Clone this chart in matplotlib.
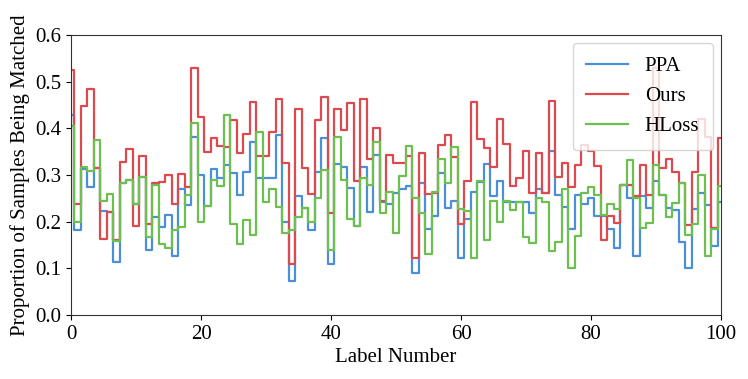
import numpy as np
import matplotlib
matplotlib.use("Agg")
import matplotlib.pyplot as plt

labels = np.arange(101)

ppa = [0.429, 0.182, 0.312, 0.275, 0.314, 0.222, 0.221, 0.114, 0.282, 0.289,
       0.238, 0.296, 0.139, 0.209, 0.189, 0.214, 0.126, 0.270, 0.236, 0.382,
       0.300, 0.234, 0.312, 0.293, 0.321, 0.305, 0.257, 0.306, 0.371, 0.293,
       0.293, 0.293, 0.385, 0.200, 0.073, 0.255, 0.229, 0.181, 0.307, 0.379,
       0.109, 0.324, 0.316, 0.273, 0.191, 0.318, 0.221, 0.343, 0.241, 0.238,
       0.261, 0.269, 0.276, 0.089, 0.282, 0.184, 0.211, 0.304, 0.230, 0.245,
       0.123, 0.205, 0.264, 0.285, 0.323, 0.255, 0.286, 0.243, 0.243, 0.241,
       0.241, 0.218, 0.269, 0.261, 0.352, 0.256, 0.231, 0.184, 0.256, 0.238,
       0.250, 0.212, 0.212, 0.184, 0.143, 0.279, 0.250, 0.126, 0.254, 0.229,
       0.286, 0.257, 0.229, 0.225, 0.157, 0.100, 0.227, 0.261, 0.236, 0.148,
       0.241]

ours = [0.524, 0.237, 0.447, 0.484, 0.315, 0.162, 0.221, 0.160, 0.327, 0.355,
        0.190, 0.341, 0.195, 0.282, 0.285, 0.300, 0.237, 0.302, 0.275, 0.530,
        0.425, 0.350, 0.379, 0.362, 0.359, 0.418, 0.348, 0.388, 0.457, 0.341,
        0.341, 0.391, 0.462, 0.326, 0.109, 0.441, 0.315, 0.260, 0.417, 0.466,
        0.219, 0.441, 0.396, 0.455, 0.286, 0.463, 0.334, 0.400, 0.244, 0.342,
        0.326, 0.325, 0.341, 0.123, 0.348, 0.259, 0.262, 0.364, 0.385, 0.339,
        0.194, 0.286, 0.457, 0.376, 0.357, 0.318, 0.419, 0.366, 0.276, 0.294,
        0.352, 0.261, 0.346, 0.261, 0.459, 0.295, 0.326, 0.275, 0.321, 0.364,
        0.351, 0.320, 0.161, 0.212, 0.198, 0.279, 0.279, 0.254, 0.321, 0.257,
        0.530, 0.314, 0.334, 0.307, 0.282, 0.193, 0.307, 0.420, 0.382, 0.186,
        0.380]

hloss = [0.405, 0.200, 0.316, 0.309, 0.375, 0.244, 0.259, 0.159, 0.282, 0.290,
         0.238, 0.296, 0.166, 0.279, 0.152, 0.143, 0.182, 0.189, 0.256, 0.411,
         0.200, 0.234, 0.289, 0.276, 0.429, 0.195, 0.151, 0.204, 0.171, 0.391,
         0.243, 0.269, 0.231, 0.175, 0.182, 0.209, 0.229, 0.200, 0.250, 0.311,
         0.140, 0.382, 0.289, 0.205, 0.191, 0.293, 0.279, 0.371, 0.219, 0.263,
         0.175, 0.298, 0.362, 0.250, 0.218, 0.130, 0.263, 0.334, 0.282, 0.359,
         0.227, 0.223, 0.123, 0.286, 0.161, 0.244, 0.200, 0.245, 0.224, 0.241,
         0.166, 0.154, 0.250, 0.241, 0.136, 0.157, 0.269, 0.100, 0.169, 0.262,
         0.275, 0.257, 0.214, 0.238, 0.226, 0.279, 0.332, 0.250, 0.186, 0.198,
         0.321, 0.257, 0.210, 0.240, 0.283, 0.171, 0.195, 0.300, 0.127, 0.185,
         0.276]

plt.rcParams['font.family'] = ['Liberation Serif', 'DejaVu Serif']

fig, ax = plt.subplots(figsize=(7.48, 3.79), dpi=100)
fig.subplots_adjust(left=0.095, right=0.964, top=0.908, bottom=0.169)

ax.step(labels, ppa, where='mid', color='#4a90d9', lw=1.6, label='PPA')
ax.step(labels, ours, where='mid', color='#dc4a50', lw=1.6, label='Ours')
ax.step(labels, hloss, where='mid', color='#6dbf4f', lw=1.6, label='HLoss')

ax.set_xlim(0, 100)
ax.set_ylim(0, 0.6)
ax.set_xticks([0, 20, 40, 60, 80, 100])
ax.set_yticks([0.0, 0.1, 0.2, 0.3, 0.4, 0.5, 0.6])
ax.set_yticklabels(['0.0', '0.1', '0.2', '0.3', '0.4', '0.5', '0.6'])
ax.tick_params(labelsize=15)
for s in ax.spines.values():
    s.set_color('#333333')

ax.set_xlabel('Label Number', fontsize=15, labelpad=3)
ax.set_ylabel('Proportion of Samples Being Matched', fontsize=15, labelpad=4)
ax.legend(loc='upper right', fontsize=15, borderpad=0.65, borderaxespad=0.4)

plt.savefig("out.png", dpi=100)
